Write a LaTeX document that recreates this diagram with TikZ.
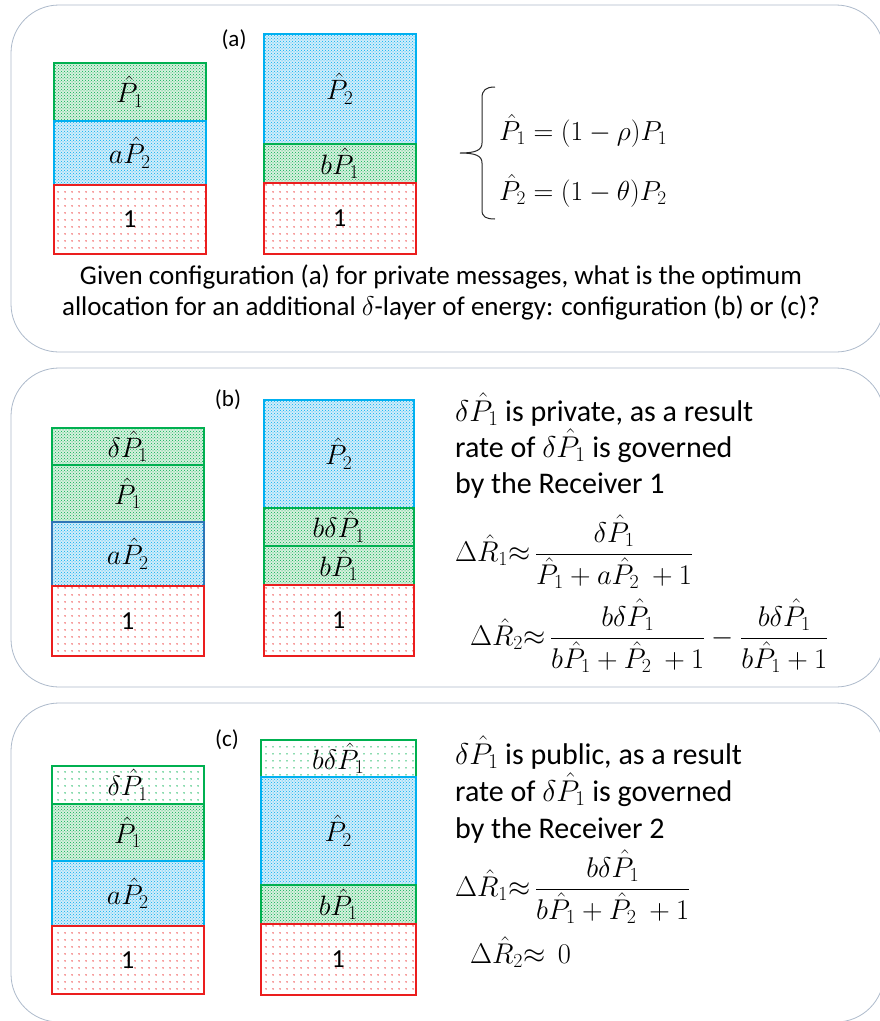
\RequirePackage{fix-cm}
\documentclass[tikz,border=0pt]{standalone}
\usepackage{amsmath}
\usepackage{fontspec}
\setmainfont{Carlito}
\usetikzlibrary{patterns,patterns.meta}
\definecolor{pgreen}{RGB}{0,176,80}
\definecolor{pblue}{RGB}{0,176,240}
\definecolor{pblue2}{RGB}{46,117,182}
\definecolor{pred}{RGB}{235,30,30}
\definecolor{frame}{RGB}{172,185,202}
\definecolor{gfill}{RGB}{215,240,222}
\definecolor{bfill}{RGB}{210,236,250}
\newcommand{\apx}{{\approx}\,}
\tikzset{
  panel/.style={draw=frame, line width=0.8pt, rounded corners=48pt},
  blk/.style={draw, line width=1.5pt, anchor=north west, inner sep=0pt, minimum width=152pt, font=\fontsize{28}{32}\selectfont},
  gd/.style={blk, draw=pgreen, preaction={fill=gfill, draw=none}, pattern=crosshatch dots, pattern color=pgreen},
  bd/.style={blk, draw=pblue, preaction={fill=bfill, draw=none}, pattern=crosshatch dots, pattern color=pblue},
  rd/.style={blk, draw=pred, pattern={Dots[distance=6.5pt,radius=0.85pt]}, pattern color=pred!85},
  gs/.style={blk, draw=pgreen, pattern={Dots[distance=6.5pt,radius=0.85pt]}, pattern color=pgreen!90},
  lab/.style={font=\fontsize{23}{26}\selectfont, inner sep=0pt},
  txt/.style={font=\fontsize{30}{34}\selectfont, anchor=base west, inner sep=0pt},
  eq/.style={font=\fontsize{28.5}{33}\selectfont, anchor=west, inner sep=0pt},
  one/.style={font=\fontsize{26}{30}\selectfont}
}
\begin{document}
\begin{tikzpicture}[x=1pt,y=-1pt]
\useasboundingbox (0,0) rectangle (880,1021);
% panels
\draw[panel] (11,5) rectangle (884,352);
\draw[panel] (11,368) rectangle (884,687);
\draw[panel] (11,703) rectangle (884,1022);

% ---------- (a)
\node[lab] (la) at (234,40) {(a)};
\node[gd, minimum height=58pt] (a1) at (53,62) {$\hat P_1$};
\node[bd, minimum height=64pt] (a2) at (53,120) {$a\hat P_2$};
\node[rd, minimum height=69pt] (a3) at (53,184) {\fontsize{26}{30}\selectfont 1};
\node[bd, minimum height=110pt] (a4) at (263,33) {$\hat P_2$};
\node[gd, minimum height=39pt] (a5) at (263,143) {$b\hat P_1$};
\node[rd, minimum height=71pt] (a6) at (263,182) {\fontsize{26}{30}\selectfont 1};
\draw[line width=1pt, black!85]
  (495,87) .. controls (486,87) and (482,90) .. (482,98) -- (482,143)
  .. controls (482,150) and (476,153) .. (460,153)
  .. controls (476,153) and (482,156) .. (482,163) -- (482,210)
  .. controls (482,217) and (486,219) .. (495,219);
\node[font=\fontsize{27.5}{31}\selectfont, anchor=west, inner sep=0pt] (ea1) at (499,131) {$\hat P_1 = (1-\rho)P_1$};
\node[font=\fontsize{27.5}{31}\selectfont, anchor=west, inner sep=0pt] (ea2) at (499,191) {$\hat P_2 = (1-\theta)P_2$};
\node[font=\fontsize{27}{31}\selectfont, align=center, inner sep=0pt] (qa) at (441,292)
  {Given configuration (a) for private messages, what is the optimum\\
   allocation for an additional $\delta$-layer of energy: configuration (b) or (c)?};

% ---------- (b)
\node[lab] (lb) at (228,400) {(b)};
\node[gd, minimum height=37pt] (b1) at (51,427) {$\delta\hat P_1$};
\node[gd, minimum height=57pt] (b2) at (51,464) {$\hat P_1$};
\node[bd, draw=pblue2, minimum height=64pt] (b3) at (51,521) {$a\hat P_2$};
\node[rd, minimum height=70pt] (b4) at (51,585) {\fontsize{26}{30}\selectfont 1};
\node[bd, minimum width=150pt, minimum height=108pt] (b5) at (263,399) {$\hat P_2$};
\node[gd, minimum width=150pt, minimum height=38pt] (b6) at (263,507) {$b\delta\hat P_1$};
\node[gd, minimum width=150pt, minimum height=39pt] (b7) at (263,545) {$b\hat P_1$};
\node[rd, minimum width=150pt, minimum height=71pt] (b8) at (263,584) {\fontsize{26}{30}\selectfont 1};
\node[txt] (tb1) at (455,421) {$\delta\hat P_1$ is private, as a result};
\node[txt] (tb2) at (455,457) {rate of $\delta\hat P_1$ is governed};
\node[txt] (tb3) at (455,493) {by the Receiver 1};
\node[eq] (eb1) at (455,552) {$\Delta\hat R_1\apx\dfrac{\delta\hat P_1}{\hat P_1+a\hat P_2\ +1}$};
\node[eq] (eb2) at (470,636) {$\Delta\hat R_2\apx\dfrac{b\delta\hat P_1}{b\hat P_1+\hat P_2\ +1}-\dfrac{b\delta\hat P_1}{b\hat P_1+1}$};

% ---------- (c)
\node[lab] (lc) at (227,740) {(c)};
\node[gs, minimum height=38pt] (c1) at (51,765) {$\delta\hat P_1$};
\node[gd, minimum height=57pt] (c2) at (51,803) {$\hat P_1$};
\node[bd, minimum height=65pt] (c3) at (51,860) {$a\hat P_2$};
\node[rd, minimum height=68pt] (c4) at (51,925) {\fontsize{26}{30}\selectfont 1};
\node[gs, minimum width=155pt, minimum height=37pt] (c5) at (260,739) {$b\delta\hat P_1$};
\node[bd, minimum width=155pt, minimum height=108pt] (c6) at (260,776) {$\hat P_2$};
\node[gd, minimum width=155pt, minimum height=39pt] (c7) at (260,884) {$b\hat P_1$};
\node[rd, minimum width=155pt, minimum height=71pt] (c8) at (260,923) {\fontsize{26}{30}\selectfont 1};
\node[txt] (tc1) at (455,764) {$\delta\hat P_1$ is public, as a result};
\node[txt] (tc2) at (455,801) {rate of $\delta\hat P_1$ is governed};
\node[txt] (tc3) at (455,838) {by the Receiver 2};
\node[eq] (ec1) at (455,887) {$\Delta\hat R_1\apx\dfrac{b\delta\hat P_1}{b\hat P_1+\hat P_2\ +1}$};
\node[eq] (ec2) at (470,952) {$\Delta\hat R_2\apx\;0$};
\end{tikzpicture}
\end{document}
